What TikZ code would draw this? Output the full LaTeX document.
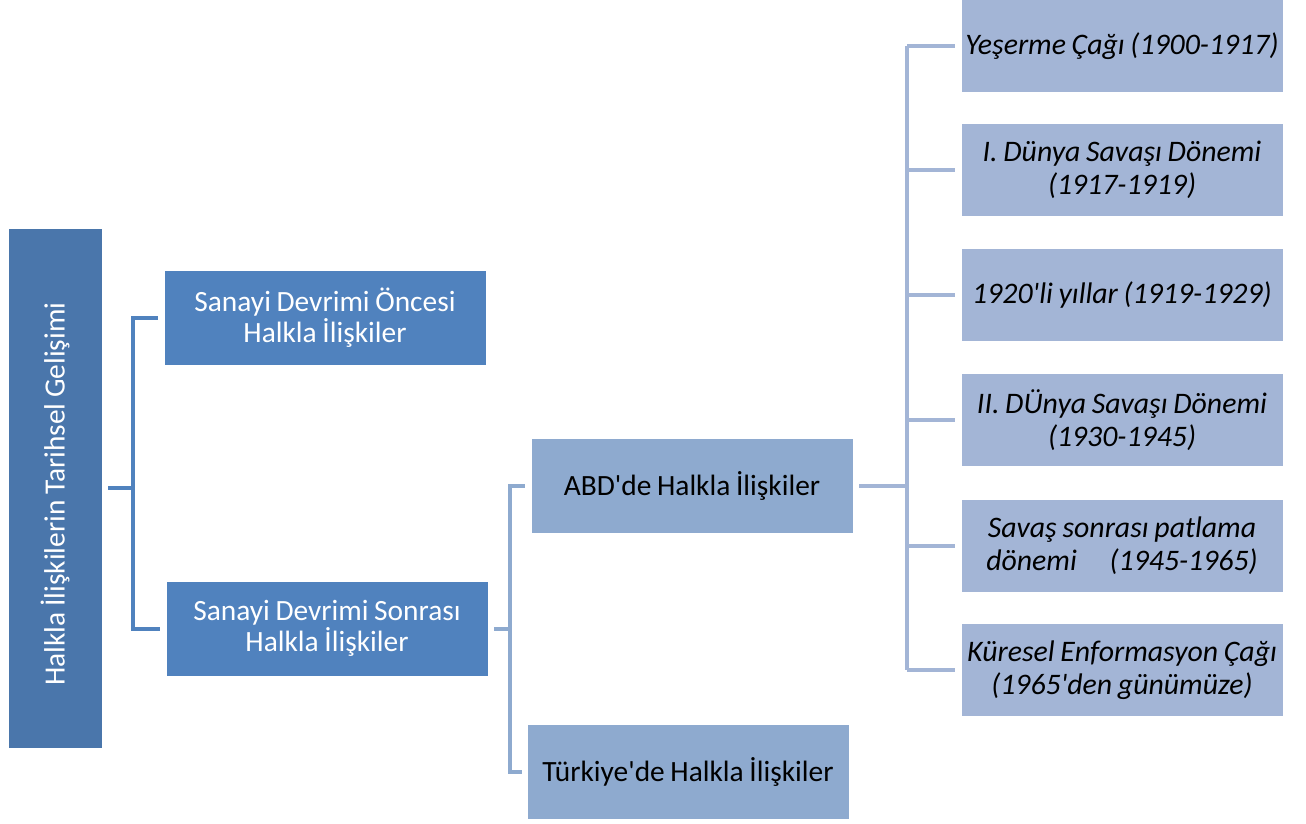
\documentclass[tikz,border=0pt]{standalone}
\usepackage{fontspec}
\setmainfont{Carlito}[WordSpace=0.85]
\definecolor{rootblue}{HTML}{4A76AB}
\definecolor{midblue}{HTML}{5082BE}
\definecolor{lightblue}{HTML}{8EAACF}
\definecolor{paleblue}{HTML}{A3B5D6}
\newcommand{\apos}{\textquotesingle}
\begin{document}
\begin{tikzpicture}[x=1pt,y=-1pt,
  box/.style={rectangle, inner sep=0pt, align=center, draw=white, line width=0.8pt},
  rootbox/.style={box, fill=rootblue, text=white, minimum width=94pt, minimum height=520pt},
  lvlone/.style={box, fill=midblue, text=white, minimum width=322pt, minimum height=95pt, font=\fontsize{29.4}{31}\selectfont},
  lvltwo/.style={box, fill=lightblue, text=black, minimum width=322pt, minimum height=95pt, font=\fontsize{29.4}{31}\selectfont},
  lvlthree/.style={box, fill=paleblue, text=black, minimum width=322pt, minimum height=93pt, font=\fontsize{29.8}{33}\selectfont\itshape},
  conone/.style={draw=midblue, line width=4pt},
  contwo/.style={draw=lightblue, line width=4pt},
  conthree/.style={draw=paleblue, line width=4pt}]
\useasboundingbox (0,0) rectangle (1306,823);
\fill[white] (0,0) rectangle (1306,823);

% root
\node[rootbox] (root) at (55,488) {};
\node[text=white, rotate=90, font=\fontsize{29.4}{31}\selectfont] (roottext) at ([yshift=-6]root.center) {Halkla İlişkilerin Tarihsel Gelişimi};

% first level
\node[lvlone] (pre) at (325,317.5) {Sanayi Devrimi Öncesi\\Halkla İlişkiler};
\node[lvlone] (post) at (327,628.5) {Sanayi Devrimi Sonrası\\Halkla İlişkiler};

% second level
\node[lvltwo] (abd) at (692,486) {ABD\apos de Halkla İlişkiler};
\node[lvltwo] (tr) at (688,771.5) {Türkiye\apos de Halkla İlişkiler};

% periods
\node[lvlthree] (p1) at (1122,46) {Yeşerme Çağı (1900-1917)};
\node[lvlthree] (p2) at (1122,170) {I. Dünya Savaşı Dönemi\\(1917-1919)};
\node[lvlthree] (p3) at (1122,295) {1920\apos li yıllar (1919-1929)};
\node[lvlthree] (p4) at (1122,420) {II. DÜnya Savaşı Dönemi\\(1930-1945)};
\node[lvlthree] (p5) at (1122,546) {Savaş sonrası patlama\\dönemi\hspace{1.1em}(1945-1965)};
\node[lvlthree] (p6) at (1122,670) {Küresel Enformasyon Çağı\\(1965\apos den günümüze)};

% bracket spines
\coordinate (s1) at (133,0);
\coordinate (s2) at (510,0);
\coordinate (s3) at (907,0);

% root to first level
\draw[conone] ([xshift=6]root.east) -- (root.east -| s1);
\draw[conone] ([xshift=-6]pre.west) -- (pre.west -| s1) -- (post.west -| s1) -- ([xshift=-6]post.west);

% post to second level
\draw[contwo] ([xshift=6]post.east) -- (post.east -| s2);
\draw[contwo] ([xshift=-6]abd.west) -- (abd.west -| s2) -- (tr.west -| s2) -- ([xshift=-5]tr.west);

% ABD to periods
\draw[conthree] ([xshift=6]abd.east) -- (abd.east -| s3);
\draw[conthree] (p1.west -| s3) -- (p6.west -| s3);
\foreach \p in {p1,p2,p3,p4,p5,p6}
  \draw[conthree] (\p.west -| s3) -- ([xshift=-6]\p.west);
\end{tikzpicture}
\end{document}
